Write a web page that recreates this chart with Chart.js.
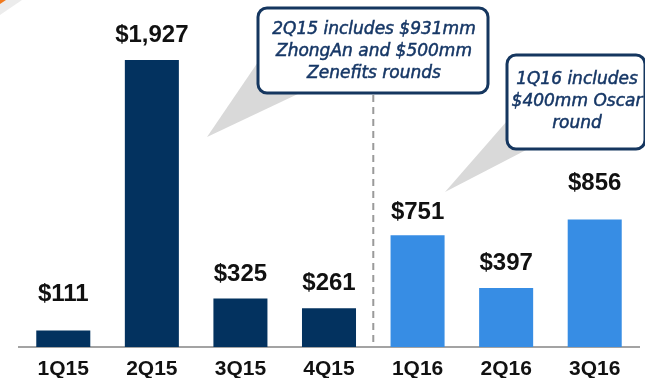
<!DOCTYPE html>
<html>
<head>
<meta charset="utf-8">
<title>Quarterly funding</title>
<script src="https://cdn.jsdelivr.net/npm/chart.js@4.4.1/dist/chart.umd.min.js"></script>
<style>
  html, body { margin: 0; padding: 0; background: #fff; }
  #wrap { width: 645px; height: 378px; position: relative; }
</style>
</head>
<body>
<div id="wrap"><canvas id="chart" width="645" height="378"></canvas></div>
<script>
// quarterly totals, $mm
const quarters = ['1Q15', '2Q15', '3Q15', '4Q15', '1Q16', '2Q16', '3Q16'];
const amounts = [111, 1927, 325, 261, 751, 397, 856];

const NAVY = '#03325f';
const BLUE = '#378de4';
const barColors = quarters.map(q => q.endsWith('15') ? NAVY : BLUE);
// gap between bar top and its value label
const labelGap = [36, 25, 24, 25, 23, 25, 36];

const callouts = [
  { box: [258, 8, 230, 85], lines: ['2Q15 includes $931mm', 'ZhongAn and $500mm', 'Zenefits rounds'],
    textX: 374, textY: [30, 52, 74], wedge: [[207, 137], [258, 62], [300, 93]] },
  { box: [507, 55, 138, 94], lines: ['1Q16 includes', '$400mm Oscar', 'round'],
    textX: 577, textY: [80, 102, 124], wedge: [[445, 192], [507, 121], [528, 149]] }
];

const valueLabels = {
  id: 'valueLabels',
  afterDatasetsDraw(chart) {
    const ctx = chart.ctx;
    const meta = chart.getDatasetMeta(0);
    ctx.save();
    ctx.font = 'bold 24px "Liberation Sans", Arial, sans-serif';
    ctx.fillStyle = '#111';
    ctx.textAlign = 'center';
    ctx.textBaseline = 'middle';
    meta.data.forEach((bar, i) => {
      const v = amounts[i].toLocaleString('en-US');
      ctx.fillText('$' + v, bar.x, bar.y - labelGap[i]);
    });
    ctx.restore();
  }
};

const notes = {
  id: 'notes',
  afterDraw(chart) {
    const ctx = chart.ctx;
    const x = chart.scales.x;
    ctx.save();

    // corner accent
    ctx.fillStyle = '#ececec';
    ctx.beginPath();
    ctx.moveTo(0, 0); ctx.lineTo(22, 0); ctx.lineTo(0, 15); ctx.closePath();
    ctx.fill();
    ctx.fillStyle = '#f07a1e';
    ctx.beginPath();
    ctx.moveTo(0, 0); ctx.lineTo(6, 0); ctx.lineTo(0, 4); ctx.closePath();
    ctx.fill();

    // divider between years
    const divX = (x.getPixelForTick(3) + x.getPixelForTick(4)) / 2;
    ctx.strokeStyle = '#9a9a9a';
    ctx.lineWidth = 2;
    ctx.setLineDash([7, 5]);
    ctx.beginPath();
    ctx.moveTo(divX, 95);
    ctx.lineTo(divX, chart.chartArea.bottom - 1);
    ctx.stroke();
    ctx.setLineDash([]);

    callouts.forEach(c => {
      ctx.fillStyle = '#d9d9d9';
      ctx.beginPath();
      ctx.moveTo(c.wedge[0][0], c.wedge[0][1]);
      ctx.lineTo(c.wedge[1][0], c.wedge[1][1]);
      ctx.lineTo(c.wedge[2][0], c.wedge[2][1]);
      ctx.closePath();
      ctx.fill();

      const [bx, by, bw, bh] = c.box;
      ctx.beginPath();
      ctx.roundRect(bx, by, bw, bh, 9);
      ctx.fillStyle = '#fff';
      ctx.fill();
      ctx.strokeStyle = '#15365f';
      ctx.lineWidth = 3;
      ctx.stroke();

      ctx.fillStyle = '#163766';
      ctx.strokeStyle = '#163766';
      ctx.lineWidth = 0.5;
      ctx.font = 'italic 17px "DejaVu Sans", sans-serif';
      ctx.textAlign = 'center';
      ctx.textBaseline = 'middle';
      c.lines.forEach((t, i) => {
        ctx.fillText(t, c.textX, c.textY[i]);
        ctx.strokeText(t, c.textX, c.textY[i]);
      });
    });
    ctx.restore();
  }
};

new Chart(document.getElementById('chart'), {
  type: 'bar',
  data: {
    labels: quarters,
    datasets: [{
      data: amounts,
      backgroundColor: barColors,
      borderWidth: 0,
      barPercentage: 1,
      categoryPercentage: 0.61
    }]
  },
  options: {
    responsive: false,
    animation: false,
    layout: { padding: { left: 19, right: 6, top: 0, bottom: 0 } },
    plugins: { legend: { display: false }, tooltip: { enabled: false } },
    scales: {
      x: {
        grid: { display: false, drawTicks: false },
        border: { display: true, color: '#a3a3a3', width: 2 },
        ticks: {
          color: '#111',
          padding: 10,
          font: { family: '"Liberation Sans", Arial, sans-serif', size: 21, weight: 'bold' }
        },
        afterFit(scale) { scale.height = 31; }
      },
      y: {
        display: false,
        min: 0,
        max: 2330
      }
    }
  },
  plugins: [valueLabels, notes]
});
</script>
</body>
</html>
